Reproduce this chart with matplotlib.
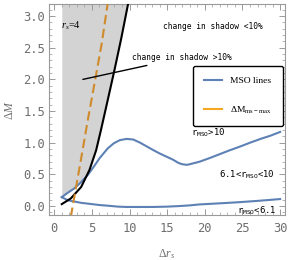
import numpy as np
import matplotlib
matplotlib.use("Agg")
import matplotlib.pyplot as plt
from matplotlib.lines import Line2D
from matplotlib.ticker import MultipleLocator, FormatStrFormatter

# monospace tick labels (Mathematica look), serif for math
plt.rcParams["font.family"] = ["DejaVu Sans Mono"]
plt.rcParams["mathtext.fontset"] = "custom"
plt.rcParams["mathtext.rm"] = "Liberation Serif"
plt.rcParams["mathtext.it"] = "Liberation Serif:italic"
plt.rcParams["mathtext.tt"] = "DejaVu Sans Mono"

# ── data ──
# boundary of the >10% shadow-change region (black)
bound_x = [1.0, 2.2, 3.57, 4.68, 5.56, 6.2, 7.0, 8.0, 8.9, 9.8]
bound_y = [0.03, 0.12, 0.30, 0.57, 0.88, 1.20, 1.62, 2.15, 2.65, 3.19]

# upper MSO line (blue)
mso_up_x = [1.0, 1.8, 2.68, 3.5, 4.45, 5.3, 6.05, 7.1, 7.9, 8.7, 9.6, 10.5, 11.4,
            12.3, 13.2, 14.0, 14.9, 15.8, 16.5, 17.0, 17.6, 18.0, 19.3, 20.7, 22.0,
            23.3, 24.7, 26.0, 27.4, 28.7, 30.0]
mso_up_y = [0.14, 0.21, 0.28, 0.37, 0.49, 0.63, 0.76, 0.91, 0.99, 1.04, 1.06, 1.05, 1.00,
            0.94, 0.88, 0.83, 0.78, 0.73, 0.68, 0.66, 0.65, 0.66, 0.70, 0.76, 0.82,
            0.88, 0.94, 1.00, 1.06, 1.11, 1.17]

# lower MSO line (blue)
mso_lo_x = [1.0, 1.8, 2.7, 3.57, 5.0, 6.05, 7.1, 8.5, 9.6, 11.0, 13.1, 15.0, 16.7, 18.0,
            19.3, 22.4, 24.5, 26.9, 28.5, 30.0]
mso_lo_y = [0.14, 0.09, 0.07, 0.05, 0.03, 0.015, 0.005, -0.01, -0.015, -0.015, -0.015,
            -0.01, 0.0, 0.01, 0.025, 0.045, 0.06, 0.08, 0.095, 0.11]

# Delta M_ms-max (orange dashed)
dm_x = [2.2, 3.45, 4.46, 5.52, 6.28, 7.1]
dm_y = [-0.17, 0.67, 1.36, 2.05, 2.55, 3.2]

BLUE = "#5e81b5"
ORANGE = "#cf8a2c"
GRAY_TXT = "#6e6e6e"
MONO = "DejaVu Sans Mono"

fig = plt.figure(figsize=(2.91, 2.60), dpi=100)
ax = fig.add_axes([49 / 291, 45 / 260, 236 / 291, 210.5 / 260])

# shaded region: left of the black boundary, above the upper MSO line
xs = np.linspace(1.0, bound_x[-1], 300)
lower = np.maximum(np.interp(xs, bound_x, bound_y), np.interp(xs, mso_up_x, mso_up_y))
ax.fill_between(xs, lower, 3.3, color="#d3d3d3", lw=0, zorder=1)

ax.plot(bound_x, bound_y, color="black", lw=1.5, zorder=3)
ax.plot(mso_up_x, mso_up_y, color=BLUE, lw=1.5, zorder=2)
ax.plot(mso_lo_x, mso_lo_y, color=BLUE, lw=1.5, zorder=2)
ax.plot(dm_x, dm_y, color=ORANGE, lw=1.5, ls=(0, (4.5, 2.2)), zorder=4)

ax.set_xlim(-0.7, 30.65)
ax.set_ylim(-0.142, 3.183)

# ── annotations ──
ax.text(0.95, 2.84, r"$r_s$=4", fontsize=7.5, family="Liberation Serif",
        ha="left", va="center", zorder=5)
ax.text(14.4, 2.84, "change in shadow <10%", fontsize=5.7, ha="left", va="center")
ax.annotate("change in shadow >10%", xy=(3.8, 2.0), xytext=(10.3, 2.34),
            fontsize=5.7, ha="left", va="center", zorder=6,
            arrowprops=dict(arrowstyle="-", color="black", lw=1.0,
                            shrinkA=1, shrinkB=0))
ax.text(18.2, 1.15, r"r$_{\mathtt{MSO}}$>10", fontsize=6.4, ha="left", va="center")
ax.text(21.9, 0.49, r"6.1<r$_{\mathtt{MSO}}$<10", fontsize=6.4, ha="left", va="center")
ax.text(24.3, -0.07, r"r$_{\mathtt{MSO}}$<6.1", fontsize=6.4, ha="left", va="center")

# legend
handles = [Line2D([], [], color=BLUE, lw=1.5),
           Line2D([], [], color="#f5a623", lw=1.5)]
labels = ["MSO lines", r"$\Delta\mathrm{M}_{\mathrm{ms-max}}$"]
leg = ax.legend(handles, labels, loc="upper left", bbox_to_anchor=(0.61, 0.708),
                borderaxespad=0, borderpad=1.15, labelspacing=2.0,
                handlelength=1.9, handletextpad=0.9, frameon=True, fancybox=True,
                prop={"family": "Liberation Serif", "size": 6.8})
leg.get_frame().set_edgecolor("black")
leg.get_frame().set_linewidth(1.0)
leg.get_frame().set_alpha(1)

# ── frame & ticks, Mathematica style ──
for sp in ax.spines.values():
    sp.set_color("#9a9a9a")
    sp.set_linewidth(0.8)
ax.xaxis.set_major_locator(MultipleLocator(5))
ax.xaxis.set_minor_locator(MultipleLocator(1))
ax.yaxis.set_major_locator(MultipleLocator(0.5))
ax.yaxis.set_minor_locator(MultipleLocator(0.1))
ax.xaxis.set_major_formatter(FormatStrFormatter("%d"))
ax.yaxis.set_major_formatter(FormatStrFormatter("%.1f"))
ax.tick_params(which="both", direction="in", top=True, right=True,
               color="#9a9a9a", labelcolor=GRAY_TXT, labelsize=8.7)
ax.tick_params(which="major", length=4, width=0.7)
ax.tick_params(which="minor", length=2, width=0.5)
ax.tick_params(axis="x", pad=5)
ax.tick_params(axis="y", pad=3)

ax.set_xlabel(r"$\mathit{\Delta r_s}$", fontsize=8.5, color=GRAY_TXT, labelpad=9)
ax.set_ylabel(r"$\mathit{\Delta M}$", fontsize=8.5, color=GRAY_TXT, labelpad=5)

fig.savefig("out.png", dpi=100)
